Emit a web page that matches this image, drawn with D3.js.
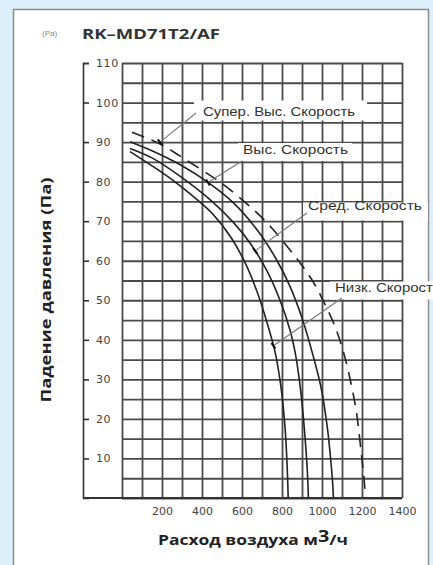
<!DOCTYPE html>
<html><head><meta charset="utf-8">
<script src="https://cdn.jsdelivr.net/npm/d3@7"></script>
<style>
html,body{margin:0;padding:0;background:#dcf0fb;}
svg{display:block;}
</style></head>
<body>
<svg id="c" width="433" height="565"></svg>
<script>
// ---- data ----
const modelTitle = "RK–MD71T2/AF";
const unitTag = "(Pa)";
const xLabel = ["Расход воздуха м", "3", "/ч"];
const yLabel = "Падение давления (Па)";
const xTickValues = [200, 400, 600, 800, 1000, 1200, 1400];
const yTickValues = [10, 20, 30, 40, 50, 60, 70, 80, 90, 100, 110];
const seriesNames = ["Супер. Выс. Скорость", "Выс. Скорость", "Сред. Скорость", "Низк. Скорост"];
// airflow (m3/h) and pressure (Pa) pairs
const superHighQ = [50, 190, 320, 500, 660, 750, 840, 900, 960, 1010, 1060, 1107, 1145, 1173, 1195, 1210, 1218];
const superHighP = [92.5, 89.5, 85.5, 79.5, 72.8, 68.2, 62.7, 58.8, 54.3, 49.5, 44, 37, 29, 21.4, 12, 5, 0];
const highQ = [40, 150, 300, 430, 560, 680, 770, 840, 900, 950, 995, 1025, 1043, 1053, 1057];
const highP = [90.1, 87.8, 84, 79.8, 74.5, 67.5, 60.5, 53.5, 45.5, 37, 28, 18.5, 10, 4, 0];
const midQ = [40, 150, 300, 450, 560, 640, 723, 790, 840, 865, 885, 903, 918, 927, 932];
const midP = [88.4, 86, 81, 75, 69.5, 64.5, 57.6, 50, 42.5, 37, 30.5, 22.5, 13.5, 6.5, 0];
const lowQ = [40, 150, 250, 350, 450, 550, 620, 680, 730, 765, 795, 815, 825, 831];
const lowP = [87.6, 84, 80.5, 76.5, 72, 65.5, 59, 51.5, 43.5, 37, 28, 18, 9, 0];
// leader tips (data coords) for each series label
const tipQ = [190, 430, 665, 757];
const tipP = [90, 79.8, 62.5, 38.5];

// ---- layout ----
const svg = d3.select("#c");
const L = 122, R = 402, T = 63, B = 498;
const x = d3.scaleLinear().domain([0, 1400]).range([L, R]);
const y = d3.scaleLinear().domain([0, 110]).range([B, T]);
const gridCol = "#4a4a4a";

// panel
svg.append("rect").attr("x", 13.5).attr("y", 9.5).attr("width", 415).attr("height", 570)
  .attr("fill", "#fff").attr("stroke", "#8c8c8c").attr("stroke-width", 1.5);

// grid via axes
const vGrid = svg.append("g").attr("transform", `translate(0,${B})`)
  .call(d3.axisBottom(x).tickValues(d3.range(0, 1401, 100)).tickSize(-(B - T)).tickFormat(""));
vGrid.select(".domain").remove();
vGrid.selectAll("line").attr("stroke", gridCol).attr("stroke-width", 1.8);
const hGrid = svg.append("g").attr("transform", `translate(${L},0)`)
  .call(d3.axisLeft(y).tickValues(d3.range(0, 111, 5)).tickSize(-(R - L)).tickFormat(""));
hGrid.select(".domain").remove();
hGrid.selectAll("line").attr("stroke", gridCol).attr("stroke-width", 1.8);

// left axis (bracket) with labels
const yAx = svg.append("g").attr("transform", `translate(83,0)`)
  .call(d3.axisRight(y).tickValues(yTickValues).tickSize(6).tickSizeOuter(6).tickPadding(7));
yAx.select(".domain").attr("stroke", "#333").attr("stroke-width", 1.6);
yAx.selectAll("line").attr("stroke", "#333").attr("stroke-width", 1.6);
yAx.selectAll("text").attr("font-family", "DejaVu Sans").attr("font-size", 11)
  .attr("fill", "#444").attr("letter-spacing", "0.6px");
// baseline from axis to plot
svg.append("line").attr("x1", 83).attr("x2", x(1400)).attr("y1", y(0)).attr("y2", y(0))
  .attr("stroke", "#333").attr("stroke-width", 1.8);

// bottom tick labels
const xAx = svg.append("g").attr("transform", `translate(0,${B})`)
  .call(d3.axisBottom(x).tickValues(xTickValues).tickFormat(d3.format("d")).tickSize(0).tickPadding(9));
xAx.select(".domain").remove();
xAx.selectAll("text").attr("font-family", "DejaVu Sans").attr("font-size", 11).attr("fill", "#444");

// curves
const lineGen = d3.line().x(d => x(d[0])).y(d => y(d[1])).curve(d3.curveCatmullRom.alpha(0.5));
const zipS = (q, p) => q.map((v, i) => [v, p[i]]);
const curves = [
  {d: zipS(superHighQ, superHighP), dash: "13,8"},
  {d: zipS(highQ, highP), dash: null},
  {d: zipS(midQ, midP), dash: null},
  {d: zipS(lowQ, lowP), dash: null}
];
curves.forEach(c => {
  svg.append("path").datum(c.d).attr("d", lineGen).attr("fill", "none")
    .attr("stroke", "#222").attr("stroke-width", 1.6)
    .attr("stroke-dasharray", c.dash);
});

// annotations: label box + leader
const ann = [
  {tx: 203, ty: 116, w: 152, box: [194, 100.5, 173, 20], from: [196, 113]},
  {tx: 243, ty: 154, w: 105, box: [238, 143, 114, 18], from: [242, 161]},
  {tx: 308, ty: 210, w: 114, box: [303, 202.5, 125, 18], from: [307, 213]},
  {tx: 335, ty: 292, w: 98, box: [330, 281.5, 105, 18], from: [342, 298]}
];
ann.forEach((a, i) => {
  svg.append("rect").attr("x", a.box[0]).attr("y", a.box[1]).attr("width", a.box[2]).attr("height", a.box[3])
    .attr("fill", "#fff");
  const tx = x(tipQ[i]), ty = y(tipP[i]);
  svg.append("line").attr("x1", a.from[0]).attr("y1", a.from[1]).attr("x2", tx).attr("y2", ty)
    .attr("stroke", "#777").attr("stroke-width", 1.1);
  const dx = tx - a.from[0], dy = ty - a.from[1], len = Math.hypot(dx, dy);
  const px = -dy / len * 3.5, py = dx / len * 3.5;
  svg.append("line").attr("x1", tx - px).attr("y1", ty - py).attr("x2", tx + px).attr("y2", ty + py)
    .attr("stroke", "#111").attr("stroke-width", 2);
  svg.append("text").attr("x", a.tx).attr("y", a.ty).text(seriesNames[i])
    .attr("font-family", "Liberation Sans, Arial, sans-serif").attr("font-size", 13).attr("fill", "#333")
    .attr("textLength", a.w).attr("lengthAdjust", "spacingAndGlyphs");
});

// titles
svg.append("text").attr("x", 42).attr("y", 36).text(unitTag)
  .attr("font-family", "Liberation Sans").attr("font-size", 8).attr("fill", "#888");
svg.append("text").attr("x", 82).attr("y", 39).text(modelTitle)
  .attr("font-family", "Open Sans").attr("font-weight", "bold").attr("font-size", 15).attr("fill", "#333")
  .attr("textLength", 138).attr("lengthAdjust", "spacingAndGlyphs");
svg.append("text").attr("transform", "translate(51,290) rotate(-90)").attr("text-anchor", "middle")
  .text(yLabel).attr("font-family", "Open Sans").attr("font-weight", "bold").attr("font-size", 14)
  .attr("fill", "#222").attr("textLength", 225).attr("lengthAdjust", "spacingAndGlyphs");
const xl = svg.append("text").attr("x", 253).attr("y", 545).attr("text-anchor", "middle")
  .attr("font-family", "Open Sans").attr("font-weight", "bold").attr("font-size", 14).attr("fill", "#222");
xl.append("tspan").text(xLabel[0]);
xl.append("tspan").attr("dy", -3).attr("font-size", 16).text(xLabel[1]);
xl.append("tspan").attr("dy", 3).text(xLabel[2]);
const wNat = xl.node().getComputedTextLength();
const s = 190 / wNat;
xl.attr("transform", `translate(253,0) scale(${s},1) translate(-253,0)`);
</script>
</body></html>
